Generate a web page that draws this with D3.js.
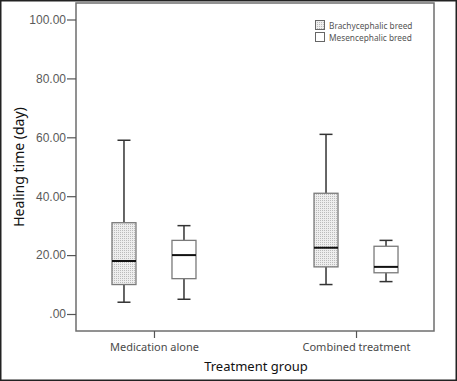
<!DOCTYPE html>
<html><head><meta charset="utf-8">
<script src="https://cdn.jsdelivr.net/npm/d3@7"></script>
<style>html,body{margin:0;padding:0;background:#fff}svg{display:block}</style>
</head><body>
<script>
const categories = ["Medication alone", "Combined treatment"];
const series = ["Brachycephalic breed", "Mesencephalic breed"];
// five-number summaries per series, per category: [min, q1, median, q3, max]
const brachyMin = [4, 10];
const brachyQ1 = [10, 16];
const brachyMedian = [18, 22.5];
const brachyQ3 = [31, 41];
const brachyMax = [59, 61];
const mesenMin = [5, 11];
const mesenQ1 = [12, 14];
const mesenMedian = [20, 16];
const mesenQ3 = [25, 23];
const mesenMax = [30, 25];
const yTicks = [0, 20, 40, 60, 80, 100];
const yTickLabels = [".00", "20.00", "40.00", "60.00", "80.00", "100.00"];

const W = 457, H = 381;
const svg = d3.select("body").append("svg").attr("width", W).attr("height", H);

const defs = svg.append("defs");
const pat = defs.append("pattern").attr("id", "dots").attr("patternUnits", "userSpaceOnUse")
  .attr("width", 2).attr("height", 2);
pat.append("rect").attr("width", 2).attr("height", 2).attr("fill", "#eeeeee");
pat.append("rect").attr("width", 1).attr("height", 1).attr("fill", "#bbbbbb");

// outer frame
svg.append("rect").attr("x", 0.75).attr("y", 0.75).attr("width", W - 1.5).attr("height", H - 1.5)
  .attr("fill", "none").attr("stroke", "#222").attr("stroke-width", 1.5);

const plot = {l: 76, r: 434, t: 3, b: 331};
const x = d3.scalePoint().domain(categories).range([plot.l, plot.r]).padding(0.386);
const xs = d3.scalePoint().domain(series).range([-30, 30]);
const y = d3.scaleLinear().domain([0, 100]).range([314, 19.5]);

// plot frame
svg.append("rect").attr("x", plot.l).attr("y", plot.t).attr("width", plot.r - plot.l).attr("height", plot.b - plot.t)
  .attr("fill", "none").attr("stroke", "#6e6e6e").attr("stroke-width", 1.5);

// y axis
const yAxis = d3.axisLeft(y).tickValues(yTicks).tickSize(9).tickPadding(1)
  .tickFormat((d, i) => yTickLabels[i]);
const gy = svg.append("g").attr("transform", `translate(${plot.l},0)`).call(yAxis);
gy.select(".domain").remove();
gy.selectAll(".tick line").attr("stroke", "#555").attr("stroke-width", 1.2);
gy.selectAll(".tick text").attr("fill", "#5a5a5a").style("font-family", "Liberation Sans, Arial, sans-serif").style("font-size", "12px");

// x axis
const xAxis = d3.axisBottom(x).tickSize(7).tickPadding(5);
const gx = svg.append("g").attr("transform", `translate(0,${plot.b})`).call(xAxis);
gx.select(".domain").remove();
gx.selectAll(".tick line").attr("stroke", "#555").attr("stroke-width", 1.2);
gx.selectAll(".tick text").attr("fill", "#4a4a4a").style("font-family", "Noto Sans, sans-serif").style("font-size", "11px");

// boxes
const data = [];
categories.forEach((c, i) => {
  data.push({cat: c, ser: series[0], min: brachyMin[i], q1: brachyQ1[i], med: brachyMedian[i], q3: brachyQ3[i], max: brachyMax[i]});
  data.push({cat: c, ser: series[1], min: mesenMin[i], q1: mesenQ1[i], med: mesenMedian[i], q3: mesenQ3[i], max: mesenMax[i]});
});
const bw = 24, cap = 6.5;
const g = svg.append("g");
data.forEach(d => {
  const cx = x(d.cat) + xs(d.ser);
  const fill = d.ser === series[0] ? "url(#dots)" : "#fff";
  g.append("line").attr("x1", cx).attr("x2", cx).attr("y1", y(d.max)).attr("y2", y(d.q3)).attr("stroke", "#333").attr("stroke-width", 1.5);
  g.append("line").attr("x1", cx).attr("x2", cx).attr("y1", y(d.q1)).attr("y2", y(d.min)).attr("stroke", "#333").attr("stroke-width", 1.5);
  g.append("line").attr("x1", cx - cap).attr("x2", cx + cap).attr("y1", y(d.max)).attr("y2", y(d.max)).attr("stroke", "#333").attr("stroke-width", 1.5);
  g.append("line").attr("x1", cx - cap).attr("x2", cx + cap).attr("y1", y(d.min)).attr("y2", y(d.min)).attr("stroke", "#333").attr("stroke-width", 1.5);
  g.append("rect").attr("x", cx - bw / 2).attr("y", y(d.q3)).attr("width", bw).attr("height", y(d.q1) - y(d.q3))
    .attr("fill", fill).attr("stroke", "#7a7a7a").attr("stroke-width", 1.3);
  g.append("line").attr("x1", cx - bw / 2).attr("x2", cx + bw / 2).attr("y1", y(d.med)).attr("y2", y(d.med)).attr("stroke", "#111").attr("stroke-width", 2);
});

// legend
const lg = svg.append("g").attr("transform", "translate(315,20)");
series.forEach((s, i) => {
  const row = lg.append("g").attr("transform", `translate(0,${i * 12})`);
  row.append("rect").attr("x", 0.5).attr("y", 0.5).attr("width", 9).attr("height", 9)
    .attr("fill", i === 0 ? "url(#dots)" : "#fff").attr("stroke", "#666").attr("stroke-width", 1);
  row.append("text").attr("x", 14).attr("y", 8.5).text(s)
    .attr("fill", "#555").style("font-family", "Noto Sans, sans-serif").style("font-size", "8.3px");
});

// axis titles
svg.append("text").attr("transform", `translate(24,167) rotate(-90)`).attr("text-anchor", "middle")
  .style("font-family", "Noto Sans, sans-serif").style("font-size", "14px").attr("fill", "#111")
  .text("Healing time (day)");
svg.append("text").attr("x", 256).attr("y", 371).attr("text-anchor", "middle")
  .style("font-family", "Noto Sans, sans-serif").style("font-size", "13px").attr("fill", "#111")
  .text("Treatment group");
</script>
</body></html>
